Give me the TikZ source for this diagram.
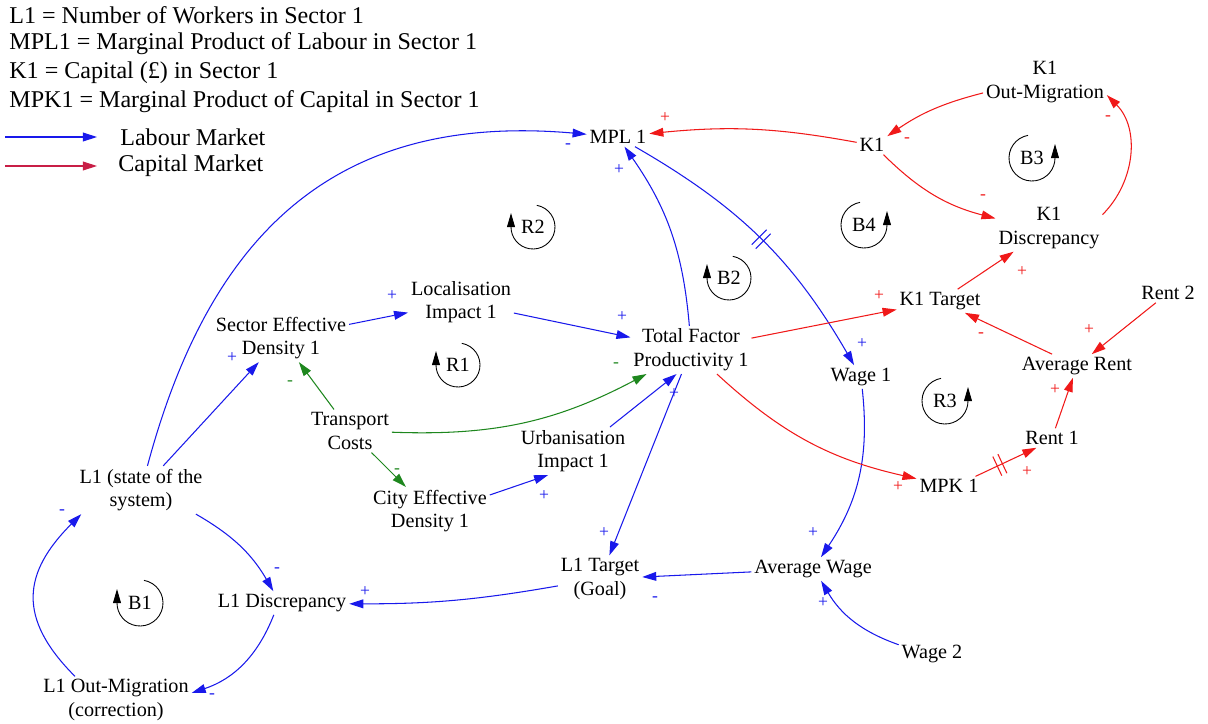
\documentclass[tikz,border=0pt]{standalone}
\usepackage{fontspec}
\setmainfont{Liberation Serif}
\usetikzlibrary{arrows.meta,decorations.markings}

\definecolor{labour}{RGB}{25,25,235}
\definecolor{capital}{RGB}{240,25,25}
\definecolor{transport}{RGB}{30,135,30}
\definecolor{capleg}{RGB}{200,30,70}

\begin{document}
\begin{tikzpicture}[x=0.02cm, y=0.02cm,
    factor/.style={font=\fontsize{11.5}{13.5}\selectfont, align=center, inner sep=1.5pt},
    pol/.style={font=\fontsize{10}{10}\selectfont, inner sep=0pt},
    legend/.style={font=\fontsize{13.7}{16}\selectfont, anchor=west, inner sep=0pt},
    link/.style={line width=0.6pt, -{Triangle[length=8pt,width=5pt]}},
    loopline/.style={line width=0.5pt, black, -{Triangle[length=8pt,width=4.5pt]}},
    delayed/.style={postaction={decorate, decoration={markings, mark=at position #1 with {\draw[-, line width=0.6pt] (-1.6pt,-6pt) -- (-1.6pt,6pt) (1.6pt,-6pt) -- (1.6pt,6pt);}}}}]
    \useasboundingbox (0,0) rectangle (1208,-724);
    % legend
    \node[legend] (defl) at (9,-15) {L1 = Number of Workers in Sector 1};
    \node[legend] (defmpl) at (9,-44) {MPL1 = Marginal Product of Labour in Sector 1};
    \node[legend] (defk) at (9,-73) {K1 = Capital (£) in Sector 1};
    \node[legend] (defmpk) at (9,-102) {MPK1 = Marginal Product of Capital in Sector 1};
    \coordinate (labA) at (5,-137);
    \coordinate (labB) at (97,-137);
    \draw[link, labour] (labA) -- (labB);
    \node[legend] (lablab) at (120,-137) {Labour Market};
    \coordinate (capA) at (5,-166);
    \coordinate (capB) at (97,-166);
    \draw[link, capleg] (capA) -- (capB);
    \node[legend] (labcap) at (118,-166) {Capital Market};
    % variables
    \node[factor] (mpl) at (618,-137) {MPL 1};
    \node[factor] (kone) at (872,-145) {K1};
    \node[factor] (kout) at (1045,-82) {K1\\Out-Migration};
    \node[factor] (kdisc) at (1049,-228) {K1\\Discrepancy};
    \node[factor] (ktarget) at (940,-301) {K1 Target};
    \node[factor] (renttwo) at (1168,-293) {Rent 2};
    \node[factor] (avgrent) at (1077,-366) {Average Rent};
    \node[factor] (rentone) at (1052,-438) {Rent 1};
    \node[factor] (mpk) at (949,-486) {MPK 1};
    \node[factor] (wageone) at (861,-377) {Wage 1};
    \node[factor] (tfp) at (691,-350) {Total Factor\\Productivity 1};
    \node[factor] (loc) at (461,-302) {Localisation\\Impact 1};
    \node[factor] (sed) at (281,-338) {Sector Effective\\Density 1};
    \node[factor] (tc) at (350,-431) {Transport\\Costs};
    \node[factor] (urb) at (573,-451) {Urbanisation\\Impact 1};
    \node[factor] (ced) at (430,-511) {City Effective\\Density 1};
    \node[factor] (lone) at (141,-490) {L1 (state of the\\system)};
    \node[factor] (ldisc) at (282,-603) {L1 Discrepancy};
    \node[factor] (ltarget) at (600,-579) {L1 Target\\(Goal)};
    \node[factor] (avgwage) at (813,-569) {Average Wage};
    \node[factor] (wagetwo) at (932,-654) {Wage 2};
    \node[factor] (lout) at (116,-700) {L1 Out-Migration\\(correction)};
    % labour market
    \draw[link, labour] (lone) to[out=75, in=175, looseness=1.15] (mpl);
    \draw[link, labour] (lone) -- (sed);
    \draw[link, labour] (lone) to[bend left=15] (ldisc);
    \draw[link, labour] (ldisc) to[bend left=25] (lout);
    \draw[link, labour] (lout.150) to[out=135, in=225, looseness=1.3] (lone.202);
    \draw[link, labour] (ltarget) to[bend left=5] (ldisc);
    \draw[link, labour] (avgwage) -- (ltarget);
    \draw[link, labour] (wagetwo) to[bend left=20] (avgwage);
    \draw[link, labour] (wageone) to[bend left=20] (avgwage);
    \draw[link, labour] (tfp) -- (ltarget);
    \draw[link, labour] (tfp) to[bend right=15] (mpl);
    \draw[link, labour, delayed=0.5] (mpl) to[bend left=15] (wageone);
    \draw[link, labour] (sed) -- (loc);
    \draw[link, labour] (loc) -- (tfp);
    \draw[link, labour] (ced.15) -- (urb.224);
    \draw[link, labour] (urb.33) -- (tfp.239);
    % transport costs
    \draw[link, transport] (tc) -- (sed);
    \draw[link, transport] (tc) to[bend right=15] (tfp);
    \draw[link, transport] (tc) -- (ced);
    % capital market
    \draw[link, capital] (kone) to[bend right=8] (mpl);
    \draw[link, capital] (kout) to[bend right=10] (kone);
    \draw[link, capital] (kone) to[bend right=15] (kdisc);
    \draw[link, capital] (kdisc.14) to[out=45, in=-45] (kout.-12);
    \draw[link, capital] (ktarget) -- (kdisc);
    \draw[link, capital] (tfp) -- (ktarget);
    \draw[link, capital] (avgrent) -- (ktarget);
    \draw[link, capital] (renttwo) -- (avgrent);
    \draw[link, capital] (rentone) -- (avgrent);
    \draw[link, capital] (tfp) to[bend right=15] (mpk);
    \draw[link, capital, delayed=0.4] (mpk.20) -- (rentone.212);
    % polarities, labour
    \node[pol, labour] (pa1) at (568,-146) {-};
    \node[pol, labour] (pa2) at (619,-170) {+};
    \node[pol, labour] (pa3) at (862,-344) {+};
    \node[pol, labour] (pa4) at (232,-358) {+};
    \node[pol, labour] (pa5) at (392,-296) {+};
    \node[pol, labour] (pa6) at (622,-317) {+};
    \node[pol, labour] (pa7) at (674,-394) {+};
    \node[pol, labour] (pa8) at (544,-496) {+};
    \node[pol, labour] (pa9) at (277,-570) {-};
    \node[pol, labour] (pa10) at (365,-592) {+};
    \node[pol, labour] (pa11) at (212,-696) {-};
    \node[pol, labour] (pa12) at (62,-512) {-};
    \node[pol, labour] (pa13) at (604,-533) {+};
    \node[pol, labour] (pa14) at (813,-533) {+};
    \node[pol, labour] (pa15) at (655,-599) {-};
    \node[pol, labour] (pa16) at (823,-603) {+};
    % polarities, transport
    \node[pol, transport] (pb1) at (290,-383) {-};
    \node[pol, transport] (pb2) at (616,-365) {-};
    \node[pol, transport] (pb3) at (397,-471) {-};
    % polarities, capital
    \node[pol, capital] (pc1) at (665,-118) {+};
    \node[pol, capital] (pc2) at (907,-140) {-};
    \node[pol, capital] (pc3) at (1108,-118) {-};
    \node[pol, capital] (pc4) at (983,-197) {-};
    \node[pol, capital] (pc5) at (1022,-272) {+};
    \node[pol, capital] (pc6) at (879,-296) {+};
    \node[pol, capital] (pc7) at (981,-335) {-};
    \node[pol, capital] (pc8) at (1089,-330) {+};
    \node[pol, capital] (pc9) at (1055,-390) {+};
    \node[pol, capital] (pc10) at (898,-487) {+};
    \node[pol, capital] (pc11) at (1027,-472) {+};
    % loop markers
    \draw[loopline] (533,-227) ++(80:22) arc[start angle=80, end angle=-180, radius=22] -- ++(0,14);
    \node[factor] (rtwo) at (533,-227) {R2};
    \draw[loopline] (729,-278) ++(80:22) arc[start angle=80, end angle=-180, radius=22] -- ++(0,14);
    \node[factor] (btwo) at (729,-278) {B2};
    \draw[loopline] (458,-365) ++(80:22) arc[start angle=80, end angle=-180, radius=22] -- ++(0,14);
    \node[factor] (rone) at (458,-365) {R1};
    \draw[loopline] (140,-603) ++(80:23) arc[start angle=80, end angle=-180, radius=23] -- ++(0,14);
    \node[factor] (bone) at (140,-603) {B1};
    \draw[loopline] (864,-225) ++(100:23) arc[start angle=100, end angle=360, radius=23] -- ++(0,14);
    \node[factor] (bfour) at (864,-225) {B4};
    \draw[loopline] (1032,-158) ++(100:23) arc[start angle=100, end angle=360, radius=23] -- ++(0,14);
    \node[factor] (bthree) at (1032,-158) {B3};
    \draw[loopline] (945,-401) ++(100:23) arc[start angle=100, end angle=360, radius=23] -- ++(0,14);
    \node[factor] (rthree) at (945,-401) {R3};
\end{tikzpicture}
\end{document}
